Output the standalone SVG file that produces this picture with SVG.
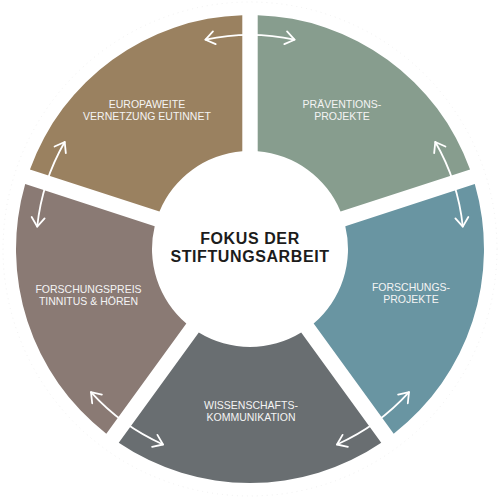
<svg xmlns="http://www.w3.org/2000/svg" width="500" height="500" viewBox="0 0 500 500">
  <defs>
    <style>
      .seg { stroke: none; }
      .lbl { font-family: "Liberation Sans", Arial, sans-serif; font-size: 10.5px; fill: #f4f4f4; text-anchor: middle; }
      .title { font-family: "Liberation Sans", Arial, sans-serif; font-size: 16px; font-weight: bold; fill: #1c1c1c; text-anchor: middle; letter-spacing: 0.6px; }
      .arr { fill: none; stroke: #ffffff; stroke-width: 1.8; stroke-linecap: round; marker-start: url(#head); marker-end: url(#head); }
    </style>
    <marker id="head" markerUnits="userSpaceOnUse" markerWidth="24" markerHeight="24" refX="0" refY="0" viewBox="-12 -12 24 24" orient="auto-start-reverse">
      <path d="M -9 -6.5 L 0 0 L -9 6.5" fill="none" stroke="#ffffff" stroke-width="1.8" stroke-linecap="round" stroke-linejoin="round"/>
    </marker>
  </defs>
  <rect width="500" height="500" fill="#ffffff"/>
  <circle cx="250" cy="249" r="247" fill="none" stroke="#ececec" stroke-width="0.8" stroke-dasharray="1 4"/>

  <g id="node-europa">
    <path class="seg" fill="#9a8160" d="M 29.96 169.41 A 234 234 0 0 1 242.3 15.13 L 242.3 151.30 A 98 98 0 0 0 159.46 211.49 Z"/>
    <text class="lbl" x="147" y="107.5">EUROPAWEITE</text>
    <text class="lbl" x="147" y="119.5">VERNETZUNG EUTINNET</text>
  </g>
  <g id="node-praevention">
    <path class="seg" fill="#879d8e" d="M 257.7 15.13 A 234 234 0 0 1 470.04 169.41 L 340.54 211.49 A 98 98 0 0 0 257.7 151.30 Z"/>
    <text class="lbl" x="342" y="107.5">PRÄVENTIONS-</text>
    <text class="lbl" x="342" y="119.5">PROJEKTE</text>
  </g>
  <g id="node-forschung">
    <path class="seg" fill="#6995a2" d="M 474.80 184.05 A 234 234 0 0 1 393.70 433.68 L 313.66 323.51 A 98 98 0 0 0 345.30 226.13 Z"/>
    <text class="lbl" x="411" y="291">FORSCHUNGS-</text>
    <text class="lbl" x="411" y="303">PROJEKTE</text>
  </g>
  <g id="node-wissenschaft">
    <path class="seg" fill="#696e71" d="M 381.24 442.74 A 234 234 0 0 1 118.76 442.74 L 198.80 332.57 A 98 98 0 0 0 301.20 332.57 Z"/>
    <text class="lbl" x="251" y="408.5">WISSENSCHAFTS-</text>
    <text class="lbl" x="251" y="420.5">KOMMUNIKATION</text>
  </g>
  <g id="node-preis">
    <path class="seg" fill="#8a7a74" d="M 106.30 433.68 A 234 234 0 0 1 25.20 184.05 L 154.70 226.13 A 98 98 0 0 0 186.34 323.51 Z"/>
    <text class="lbl" x="88.5" y="293">FORSCHUNGSPREIS</text>
    <text class="lbl" x="88.5" y="305">TINNITUS &amp; HÖREN</text>
  </g>
  <g id="node-center">
    <text class="title" x="250" y="243.5">FOKUS DER</text>
    <text class="title" x="250" y="261.5">STIFTUNGSARBEIT</text>
  </g>

  <g id="connectors">
    <path class="arr" d="M 205.5 39.7 A 214 214 0 0 1 294.5 39.7"/>
    <path class="arr" d="M 435.3 142 A 214 214 0 0 1 462.8 226.6"/>
    <path class="arr" d="M 409 392.2 A 214 214 0 0 1 337 444.5"/>
    <path class="arr" d="M 163 444.5 A 214 214 0 0 1 91 392.2"/>
    <path class="arr" d="M 37.2 226.6 A 214 214 0 0 1 64.7 142"/>
  </g>
</svg>
